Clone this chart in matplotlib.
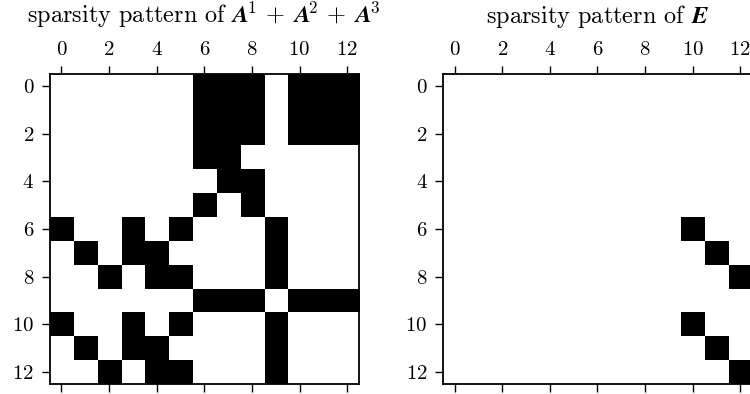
import numpy as np
import matplotlib
matplotlib.use('Agg')
from matplotlib import pyplot as plt

plt.rcParams['font.family'] = 'serif'
plt.rcParams['font.serif'] = ['cmr10']
plt.rcParams['mathtext.fontset'] = 'cm'
plt.rcParams['axes.formatter.use_mathtext'] = True
plt.rcParams['axes.linewidth'] = 1.3
plt.rcParams['xtick.major.size'] = 5.5
plt.rcParams['ytick.major.size'] = 5.5
plt.rcParams['xtick.major.width'] = 1.0
plt.rcParams['ytick.major.width'] = 1.0

n = 13

# nonzero columns of each row of A^1 + A^2 + A^3
sum_rows = [
    [6, 7, 8, 10, 11, 12],
    [6, 7, 8, 10, 11, 12],
    [6, 7, 8, 10, 11, 12],
    [6, 7],
    [7, 8],
    [6, 8],
    [0, 3, 5, 9],
    [1, 3, 4, 9],
    [2, 4, 5, 9],
    [6, 7, 8, 10, 11, 12],
    [0, 3, 5, 9],
    [1, 3, 4, 9],
    [2, 4, 5, 9],
]

# nonzero entries of E as (row, col)
e_rows = [6, 7, 8, 10, 11, 12]
e_cols = [10, 11, 12, 10, 11, 12]

A_sum = np.zeros((n, n))
for i, cols in enumerate(sum_rows):
    A_sum[i, cols] = 1

E = np.zeros((n, n))
E[e_rows, e_cols] = 1

fig = plt.figure(figsize=(7.5, 3.94), dpi=100)
ax1 = fig.add_axes([0.066, 0.0254, 0.4127, 0.787])
ax2 = fig.add_axes([0.5903, 0.0254, 0.4127, 0.787])

ax1.spy(A_sum)
ax1.set_title(r'sparsity pattern of $\boldsymbol{A}^{\!1}\,+\;\boldsymbol{A}^{\!2}\,+\;\boldsymbol{A}^{\!3}$',
              fontsize=17.5, pad=13)
ax2.spy(E)
ax2.set_title(r'sparsity pattern of $\boldsymbol{E}$', fontsize=17.5, pad=13)

for ax in (ax1, ax2):
    ax.tick_params(labelsize=15, pad=5.5)

fig.savefig('out.png', dpi=100)
